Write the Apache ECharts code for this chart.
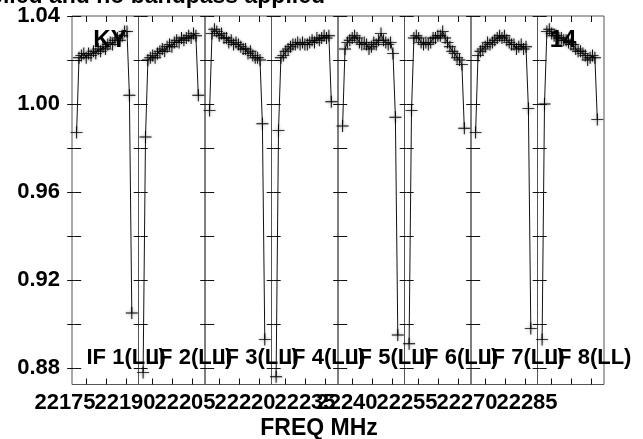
<!DOCTYPE html>
<html>
<head>
<meta charset="utf-8">
<script src="https://cdn.jsdelivr.net/npm/echarts@6/dist/echarts.min.js"></script>
<style>
html, body { margin: 0; padding: 0; background: #fff; }
#main { width: 643px; height: 439px; }
</style>
</head>
<body>
<div id="main"></div>
<script>
// amplitude per channel, one array per IF (24 channels each)
var if1 = [0.987, 1.021, 1.022, 1.023, 1.021, 1.023, 1.022, 1.024, 1.023, 1.025, 1.024, 1.026,
           1.025, 1.027, 1.028, 1.027, 1.029, 1.030, 1.029, 1.031, 1.033, 1.033, 1.004, 0.905];
var if2 = [0.878, 0.985, 1.020, 1.021, 1.022, 1.021, 1.023, 1.024, 1.025, 1.024, 1.026, 1.027,
           1.026, 1.028, 1.029, 1.028, 1.030, 1.029, 1.030, 1.031, 1.030, 1.032, 1.031, 1.004];
var if3 = [0.997, 1.032, 1.034, 1.033, 1.031, 1.032, 1.030, 1.030, 1.028, 1.029, 1.027, 1.028,
           1.027, 1.026, 1.025, 1.025, 1.023, 1.024, 1.022, 1.021, 1.021, 1.020, 0.991, 0.893];
var if4 = [0.876, 0.988, 1.021, 1.022, 1.024, 1.025, 1.026, 1.027, 1.027, 1.028, 1.027, 1.028,
           1.027, 1.027, 1.028, 1.029, 1.028, 1.030, 1.029, 1.030, 1.031, 1.030, 1.031, 1.001];
var if5 = [0.990, 1.025, 1.028, 1.029, 1.030, 1.031, 1.030, 1.028, 1.027, 1.028, 1.027, 1.025,
           1.026, 1.028, 1.027, 1.029, 1.032, 1.029, 1.028, 1.027, 1.028, 1.023, 0.994, 0.895];
var if6 = [0.891, 0.997, 1.030, 1.031, 1.030, 1.028, 1.027, 1.028, 1.027, 1.028, 1.030, 1.030,
           1.031, 1.031, 1.033, 1.030, 1.028, 1.026, 1.024, 1.023, 1.021, 1.020, 1.018, 0.989];
var if7 = [0.987, 1.022, 1.024, 1.025, 1.026, 1.028, 1.027, 1.028, 1.029, 1.030, 1.031, 1.030,
           1.031, 1.029, 1.028, 1.027, 1.027, 1.025, 1.026, 1.027, 1.025, 1.026, 0.998, 0.898];
var if8 = [0.893, 1.000, 1.033, 1.034, 1.032, 1.031, 1.031, 1.030, 1.030, 1.029, 1.029, 1.028,
           1.027, 1.027, 1.025, 1.024, 1.024, 1.023, 1.022, 1.020, 1.021, 1.022, 1.021, 0.993];
var ifData = [if1, if2, if3, if4, if5, if6, if7, if8];
var ifNames = ['IF 1(LL)', 'IF 2(LL)', 'IF 3(LL)', 'IF 4(LL)', 'IF 5(LL)', 'IF 6(LL)', 'IF 7(LL)', 'IF 8(LL)'];

var freqLabels = ['22175', '22190', '22205', '22220', '22235', '22240', '22255', '22270', '22285'];
var yTicks = [0.88, 0.90, 0.92, 0.94, 0.96, 0.98, 1.00, 1.02, 1.04];
var yLabels = [0.88, 0.92, 0.96, 1.00, 1.04];

// layout
var plotLeft = 72, plotTop = 16, plotH = 368.5, panelW = 66.5;
var yMin = 0.8725, yMax = 1.04;
var chMin = -0.917, chMax = 26.79;         // channel axis range of one panel
var chTicks = [4.9, 13.25, 21.6];           // top/bottom tick marks inside a panel
var freqLabelX = [65, 125, 185, 245, 305, 347, 407, 467, 527];
var FONT = 'Liberation Sans, Arial, sans-serif';
var CROSS = 'path://M6,0h1v6h6v1h-6v6h-1v-6h-6v-1h6z';

var myChart = echarts.init(document.getElementById('main'));

var grids = [], xAxes = [], yAxes = [], series = [], texts = [];
var tickStyle = { color: '#111', width: 1 };

for (var i = 0; i < 8; i++) {
    grids.push({
        left: plotLeft + i * panelW, top: plotTop, width: panelW, height: plotH,
        show: true, borderColor: '#555', borderWidth: 1, backgroundColor: 'transparent'
    });
}
for (var p = 0; p < 2; p++) {
    for (var i = 0; i < 8; i++) {
        xAxes.push({
            type: 'value', gridIndex: i, position: p == 0 ? 'bottom' : 'top',
            min: chMin, max: chMax,
            axisLine: { show: false }, splitLine: { show: false },
            axisTick: { show: true, inside: true, length: 6, customValues: chTicks, lineStyle: tickStyle },
            axisLabel: { show: false }
        });
        yAxes.push({
            type: 'value', gridIndex: i, position: p == 0 ? 'left' : 'right',
            min: yMin, max: yMax,
            axisLine: { show: false }, splitLine: { show: false },
            axisTick: { show: true, inside: true, length: 7, customValues: yTicks, lineStyle: tickStyle },
            axisLabel: {
                show: (p == 0 && i == 0), customValues: yLabels, margin: 12,
                showMinLabel: true, showMaxLabel: true,
                color: '#000', fontSize: 22, fontWeight: 'bold', fontFamily: FONT,
                formatter: function (v) { return v.toFixed(2); }
            }
        });
    }
}

// full-width grid that only carries the frequency labels;
// labels go on two axes (alternating) so that touching labels are never dropped
grids.push({ left: 0, top: plotTop, width: 643, height: plotH, show: false });
for (var a = 0; a < 2; a++) {
    xAxes.push({
        type: 'value', gridIndex: 8, position: 'bottom', min: 0, max: 643,
        axisLine: { show: false }, axisTick: { show: false }, splitLine: { show: false },
        axisLabel: {
            show: true, margin: 7,
            customValues: freqLabelX.filter(function (x, k) { return k % 2 == a; }),
            showMinLabel: true, showMaxLabel: true, hideOverlap: false,
            color: '#000', fontSize: 22, fontWeight: 'bold', fontFamily: FONT,
            formatter: function (v) {
                var k = freqLabelX.indexOf(Math.round(v));
                return k < 0 ? '' : freqLabels[k];
            }
        }
    });
}
yAxes.push({ type: 'value', gridIndex: 8, min: 0, max: 1, show: false });

for (var i = 0; i < 8; i++) {
    series.push({
        type: 'line', name: ifNames[i], xAxisIndex: i, yAxisIndex: i,
        data: ifData[i].map(function (v, k) { return [k + 1, v]; }),
        symbol: CROSS, symbolSize: 12, showAllSymbol: true,
        itemStyle: { color: '#000', shadowColor: 'rgba(0,0,0,0.45)', shadowBlur: 3 },
        lineStyle: { color: '#111', width: 1 },
        silent: true, clip: false
    });
    texts.push({
        type: 'text', x: plotLeft + i * panelW + 14.5, y: 358,
        style: { text: ifNames[i], fill: '#000', font: 'bold 22px ' + FONT, textAlign: 'left', textVerticalAlign: 'middle' }
    });
}

texts.push({
    type: 'text', x: 325, y: 8,
    style: { text: 'Calibration applied and no bandpass applied', fill: '#000', font: 'bold 23px ' + FONT, textAlign: 'right', textVerticalAlign: 'bottom' }
});
texts.push({
    type: 'text', x: 319, y: 429,
    style: { text: 'FREQ MHz', fill: '#000', font: 'bold 23px ' + FONT, textAlign: 'center', textVerticalAlign: 'middle' }
});
texts.push({
    type: 'text', x: 110, y: 40,
    style: { text: 'KY', fill: '#000', font: 'bold 24px ' + FONT, textAlign: 'center', textVerticalAlign: 'middle' }
});
texts.push({
    type: 'text', x: 563, y: 40,
    style: { text: '14', fill: '#000', font: 'bold 24px ' + FONT, textAlign: 'center', textVerticalAlign: 'middle' }
});

var option = {
    animation: false,
    backgroundColor: '#fff',
    grid: grids,
    xAxis: xAxes,
    yAxis: yAxes,
    series: series,
    graphic: texts
};

myChart.setOption(option);
window.onresize = function () { myChart.resize(); };
</script>
</body>
</html>
